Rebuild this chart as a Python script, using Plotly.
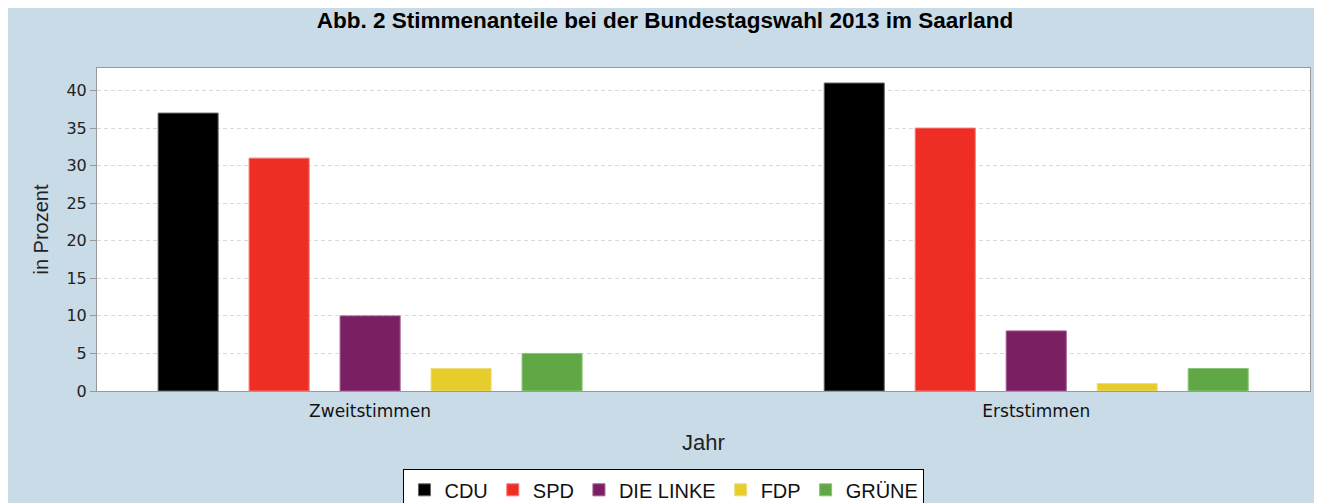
import plotly.graph_objects as go

categories = ["Zweitstimmen", "Erststimmen"]
parties = ["CDU", "SPD", "DIE LINKE", "FDP", "GRÜNE"]
cdu = [37, 41]
spd = [31, 35]
linke = [10, 8]
fdp = [3, 1]
gruene = [5, 3]
yticks = [0, 5, 10, 15, 20, 25, 30, 35, 40]

series = [cdu, spd, linke, fdp, gruene]
colors = ["#000000", "#ee2d24", "#7b1f63", "#e6cd2c", "#5fa845"]
lines = ["#666666", "#f27a74", "#a05a90", "#efdc7a", "#8cc47a"]

fig = go.Figure()
for name, vals, c, lc in zip(parties, series, colors, lines):
    fig.add_trace(go.Bar(x=categories, y=vals, name=name,
                         marker=dict(color=c, line=dict(color=lc, width=1))))

sans = "Liberation Sans, Arial, sans-serif"
wide = "DejaVu Sans, sans-serif"
fig.update_layout(
    width=1314, height=495,
    paper_bgcolor="#cadbe8", plot_bgcolor="#ffffff",
    margin=dict(l=89, r=12, t=60, b=112),
    barmode="group", bargap=0.317, bargroupgap=0.34,
    title=dict(text="<b>Abb. 2 Stimmenanteile bei der Bundestagswahl 2013 im Saarland</b>",
               x=0.5, xref="container", xanchor="center", y=0.976, yref="container",
               yanchor="middle",
               font=dict(family=sans, size=22.5, color="#000000")),
    font=dict(family=sans, color="#222222"),
    legend=dict(orientation="h", x=0.4674, xref="paper", xanchor="center",
                y=0.068, yref="container", yanchor="top", bgcolor="#ffffff",
                bordercolor="#000000", borderwidth=1,
                font=dict(family=sans, size=20, color="#111111"),
                itemwidth=30, tracegroupgap=0),
    showlegend=True,
)
fig.update_xaxes(range=[-0.41, 1.411], showgrid=False, showline=True, linecolor="#999999",
                 linewidth=1, mirror=True, ticks="outside", ticklen=5,
                 tickcolor="rgba(0,0,0,0)",
                 tickfont=dict(family=wide, size=17, color="#111111"),
                 title=dict(text="Jahr", font=dict(family=sans, size=22, color="#222222"),
                            standoff=14))
fig.update_yaxes(range=[0, 43], tickvals=yticks, showgrid=True, gridcolor="#d9d9d9",
                 griddash="4px,3px", showline=True, linecolor="#999999", linewidth=1,
                 mirror=True, ticks="outside", ticklen=6, tickcolor="#999999",
                 tickfont=dict(family=wide, size=16, color="#222222"), zeroline=False,
                 title=dict(text="in Prozent", font=dict(family=sans, size=20, color="#222222"),
                            standoff=12))
fig.write_html("out.html")
